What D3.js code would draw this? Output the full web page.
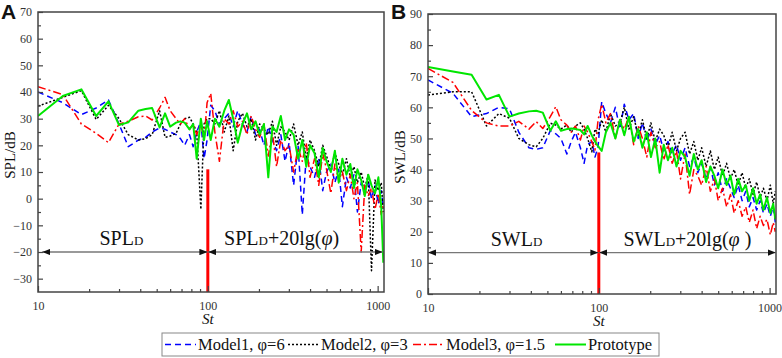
<!DOCTYPE html>
<html>
<head>
<meta charset="utf-8">
<script src="https://cdn.jsdelivr.net/npm/d3@7"></script>
<style>
body { margin: 0; background: #fff; }
svg text { font-family: "Liberation Serif", "Times New Roman", serif; }
</style>
</head>
<body>
<div id="chart"></div>
<script>
// Strouhal numbers (shared x grid for every series)
var stValues = [10, 14, 18, 22, 26, 30, 34, 39, 43, 47, 52, 56, 60, 65, 69, 73, 78, 82, 86, 91, 95, 99,
  104, 110, 117, 125, 133, 141, 150, 160, 170, 180, 191, 202, 214, 227, 240, 254, 269, 285, 301,
  320, 340, 360, 380, 400, 425, 450, 475, 500, 530, 560, 590, 620, 655, 690, 725, 760, 800, 840, 880, 920, 965, 1010, 1050, 1080];

// panel A : SPL/dB
var splModel1 = [40, 36, 31.5, 34, 37, 28, 19.5, 22, 23, 25, 26.5, 26, 25, 24, 22.5, 20, 24, 19.5, 25, 29, 15, 22,
  35, 33, 28, 30, 32, 27, 33, 28, 25, 31, 24, 26, 20, 27, 22, 18, 24, 14, 21,
  5, 20, -6, 16, 12, 8, 15, 3, 10, 13, 6, 11, -3, 8, 4, 9, -5, 6, 2, 7, 0, 5, -2, 3, -3];
var splModel2 = [34.7, 38, 40.5, 29.7, 35, 30, 24, 22, 22.5, 24, 33, 23, 23.5, 24.5, 28, 30, 30.5, 28, 25, -4, 28, 30,
  30, 28, 33, 25, 31, 18, 29, 32, 27, 30, 22, 28, 26, 24, 29, 20, 27, 25, 22,
  28, 20, 25, 15, 22, 18, 12, 20, 16, 11, 17, 13, 9, 15, 8, 12, 6, 10, 4, 9, -27, 7, 3, 6, -5];
var splModel3 = [42, 39, 28, 24.5, 21, 28, 29, 30.7, 31, 29.5, 34, 38, 33, 30, 28, 30, 26, 28, 24, 28, 22, 36,
  39.5, 25, 14, 30, 28, 33, 27, 29, 24, 31, 26, 23, 28, 16, 25, 12, 22, 18, 20,
  10, 19, 14, 21, 8, 15, 5, 17, 11, 2, 13, 7, 10, 3, 9, 0, 6, -20, 5, 1, 4, -4, 2, -6, -2];
var splProto = [31, 38.5, 41, 31, 36.5, 27.6, 28.6, 33, 33.6, 34, 26.7, 32, 27, 28.5, 29, 28.5, 26, 28, 15, 30, 22, 29,
  22, 30, 27, 33, 37, 30, 21, 28, 32, 26, 29, 24, 28, 8, 27, 25, 31, 22, 26,
  24, 15, 22, 12, 20, 17, 8, 19, 14, 10, 18, 6, 15, 9, 13, 4, 11, 7, 1, 9, 5, 2, 8, -3, -24];

// panel B : SWL/dB
var swlModel1 = [68.8, 64.5, 57, 58, 60, 59.5, 52, 47, 46.5, 47, 52.5, 51.5, 50, 45, 49, 52, 47, 42, 48, 49, 44, 47.3,
  61.8, 58, 55, 60, 53, 61, 56, 58, 50, 55, 49, 53, 48, 51, 46, 49, 45, 48, 43,
  47, 41, 44, 39, 42, 37, 41, 35, 39, 33, 37, 34, 31, 35, 30, 33, 28, 31, 27, 30, 26, 29, 25, 28, 23];
var swlModel2 = [64, 65, 65, 54, 58, 56.5, 50, 48, 47.3, 50, 54.9, 54.3, 53, 54.3, 52, 54, 55, 53, 50, 45.7, 53, 51.6,
  56, 52, 58, 54, 55, 60, 53, 57, 51, 56, 50, 55, 49, 53, 51, 47, 52, 46, 50,
  52, 45, 49, 43, 47, 41, 46, 40, 44, 38, 42, 37, 40, 35, 39, 34, 37, 32, 36, 31, 34, 30, 35, 29, 33];
var swlModel3 = [72.5, 68, 59, 55, 54, 54, 55.5, 53, 55.4, 53.2, 57, 60.2, 56, 54.3, 52, 54, 49.5, 54, 52, 48.9, 46.3, 56,
  61, 55, 58, 50, 56, 53, 57, 48, 54, 50, 44, 52, 47, 49, 43, 48, 42, 46, 37,
  45, 32, 40, 38, 35, 41, 33, 37, 30, 34, 28, 32, 26, 30, 25, 28, 23, 27, 21, 25, 22, 24, 19, 23, 20];
var swlProto = [73, 71.5, 70.5, 62.5, 64, 57, 58, 58.7, 58.9, 58.3, 52.5, 55.5, 52.5, 53, 53.2, 53, 52.7, 51.3, 54, 51, 49, 47.5,
  46, 52, 55, 50, 56, 51, 57, 49, 53, 47, 52, 44, 50, 39, 48, 43, 47, 41, 46,
  44, 38, 45, 40, 43, 36, 41, 38, 34, 40, 35, 38, 32, 37, 33, 35, 30, 34, 29, 32, 27, 31, 26, 29, 24];

var xTicks = [10, 100, 1000];
var xMinorTicks = [20, 30, 40, 50, 60, 70, 80, 90, 200, 300, 400, 500, 600, 700, 800, 900];
var splTicks = [-30, -20, -10, 0, 10, 20, 30, 40, 50, 60, 70];
var splMinorTicks = [-25, -15, -5, 5, 15, 25, 35, 45, 55, 65];
var swlTicks = [0, 10, 20, 30, 40, 50, 60, 70, 80, 90];
var swlMinorTicks = [5, 15, 25, 35, 45, 55, 65, 75, 85];

var seriesNames = ["Model1, \u03c6=6", "Model2, \u03c6=3", "Model3, \u03c6=1.5", "Prototype"];

var styles = [
  {color: "#0000ff", dash: "6,4", width: 1.5},
  {color: "#000000", dash: "2,2", width: 1.5},
  {color: "#ff0000", dash: "8,3,2,3", width: 1.5},
  {color: "#00e600", dash: null, width: 2}
];

var width = 782, height = 358;
var svg = d3.select("#chart").append("svg")
  .attr("width", width).attr("height", height);

var defs = svg.append("defs");
defs.append("marker")
  .attr("id", "arr")
  .attr("viewBox", "0 0 10 8")
  .attr("refX", 10).attr("refY", 4)
  .attr("markerWidth", 8).attr("markerHeight", 6.4)
  .attr("markerUnits", "userSpaceOnUse")
  .attr("orient", "auto-start-reverse")
  .append("path").attr("d", "M0,0L10,4L0,8Z").attr("fill", "#111");

function drawPanel(p) {
  var x = d3.scaleLog().domain([10, 1090]).range([p.left, p.right]);
  var y = d3.scaleLinear().domain(p.yDomain).range([p.bottom, p.top]);
  var g = svg.append("g");

  defs.append("clipPath").attr("id", "clip" + p.id)
    .append("rect").attr("x", p.left).attr("y", p.top)
    .attr("width", p.right - p.left).attr("height", p.bottom - p.top);

  var line = d3.line()
    .x(function(d, i){ return x(stValues[i]); })
    .y(function(d){ return y(d); });

  var lines = g.append("g").attr("clip-path", "url(#clip" + p.id + ")");
  p.series.forEach(function(s, k){
    lines.append("path")
      .attr("d", line(s))
      .attr("fill", "none")
      .attr("stroke", styles[k].color)
      .attr("stroke-width", styles[k].width)
      .attr("stroke-dasharray", styles[k].dash)
      .attr("stroke-linejoin", "round");
  });

  // red divider at St = 100
  g.append("line")
    .attr("x1", x(100)).attr("x2", x(100))
    .attr("y1", y(p.redTop)).attr("y2", y(p.yDomain[0]))
    .attr("stroke", "#ff0000").attr("stroke-width", 3);

  // double arrows
  p.arrows.forEach(function(a){
    g.append("line")
      .attr("x1", x(a[0])).attr("x2", x(a[1]))
      .attr("y1", y(p.arrowY)).attr("y2", y(p.arrowY))
      .attr("stroke", "#777").attr("stroke-width", 1.3)
      .attr("marker-start", "url(#arr)").attr("marker-end", "url(#arr)");
  });

  // region labels
  var t1 = g.append("text").attr("x", x(p.label1At)).attr("y", y(p.arrowY) - 7)
    .attr("text-anchor", "middle").attr("font-size", 20).attr("fill", "#111");
  t1.append("tspan").text(p.name);
  t1.append("tspan").attr("font-size", 13).text("D");

  var t2 = g.append("text").attr("x", x(p.label2At)).attr("y", y(p.arrowY) - 7)
    .attr("text-anchor", "middle").attr("font-size", 20).attr("fill", "#111");
  t2.append("tspan").text(p.name);
  t2.append("tspan").attr("font-size", 13).text("D");
  t2.append("tspan").text("+20lg(");
  t2.append("tspan").attr("font-style", "italic").text("\u03c6");
  t2.append("tspan").text(p.closing);

  // frame
  g.append("rect")
    .attr("x", p.left).attr("y", p.top)
    .attr("width", p.right - p.left).attr("height", p.bottom - p.top)
    .attr("fill", "none").attr("stroke", "#444").attr("stroke-width", 1.5);

  // x axis
  g.append("g").attr("transform", "translate(0," + p.bottom + ")")
    .call(d3.axisBottom(x).tickValues(xTicks).tickSizeInner(-6).tickSizeOuter(0)
      .tickPadding(9).tickFormat(d3.format("d")));
  g.append("g").attr("transform", "translate(0," + p.bottom + ")")
    .call(d3.axisBottom(x).tickValues(xMinorTicks).tickSizeInner(-3).tickSizeOuter(0).tickFormat(""));

  // y axis
  g.append("g").attr("transform", "translate(" + p.left + ",0)")
    .call(d3.axisLeft(y).tickValues(p.ticks).tickSizeInner(-5).tickSizeOuter(0).tickPadding(6));
  g.append("g").attr("transform", "translate(" + p.left + ",0)")
    .call(d3.axisLeft(y).tickValues(p.minorTicks).tickSizeInner(-3).tickSizeOuter(0).tickFormat(""));

  g.selectAll(".domain").remove();
  g.selectAll(".tick line").attr("stroke", "#444").attr("stroke-width", 1.2);
  g.selectAll(".tick text").attr("font-size", 12).attr("fill", "#333");

  // axis titles
  g.append("text")
    .attr("x", x(100)).attr("y", p.bottom + 32)
    .attr("text-anchor", "middle").attr("font-size", 15).attr("font-style", "italic")
    .attr("fill", "#111").text("St");
  g.append("text")
    .attr("transform", "translate(" + (p.left - 23) + "," + ((p.top + p.bottom) / 2 + 3) + ") rotate(-90)")
    .attr("text-anchor", "middle").attr("font-size", 15).attr("fill", "#111")
    .text(p.yTitle);

  // panel letter
  svg.append("text")
    .attr("x", p.left - 37).attr("y", 19)
    .attr("dominant-baseline", "alphabetic")
    .style("font-family", "'Liberation Sans', Arial, sans-serif")
    .attr("font-weight", "bold")
    .attr("font-size", 21).attr("fill", "#111")
    .text(p.letter);
}

drawPanel({
  id: "A", letter: "A", name: "SPL", closing: ")", yTitle: "SPL/dB",
  left: 38, right: 384, top: 12, bottom: 292,
  yDomain: [-35, 70], ticks: splTicks, minorTicks: splMinorTicks,
  series: [splModel1, splModel2, splModel3, splProto],
  redTop: 11, arrowY: -20, arrows: [[10.6, 99.4], [100.6, 1070]],
  label1At: 31, label2At: 272
});

drawPanel({
  id: "B", letter: "B", name: "SWL", closing: " )", yTitle: "SWL/dB",
  left: 428, right: 776, top: 14, bottom: 294,
  yDomain: [0, 90], ticks: swlTicks, minorTicks: swlMinorTicks,
  series: [swlModel1, swlModel2, swlModel3, swlProto],
  redTop: 45.5, arrowY: 13.3, arrows: [[10, 99.4], [100.6, 1085]],
  label1At: 33, label2At: 330
});

// legend
var legend = svg.append("g");
legend.append("rect")
  .attr("x", 162).attr("y", 333).attr("width", 497).attr("height", 23)
  .attr("fill", "#fff").attr("stroke", "#888").attr("stroke-width", 1);
var legendX = [165, 288, 413, 555];
seriesNames.forEach(function(name, k){
  legend.append("line")
    .attr("x1", legendX[k]).attr("x2", legendX[k] + 31)
    .attr("y1", 344.5).attr("y2", 344.5)
    .attr("stroke", styles[k].color).attr("stroke-width", styles[k].width)
    .attr("stroke-dasharray", styles[k].dash);
  legend.append("text")
    .attr("x", legendX[k] + 33).attr("y", 349.5)
    .attr("font-size", 16.5).attr("fill", "#111")
    .text(name);
});
</script>
</body>
</html>
